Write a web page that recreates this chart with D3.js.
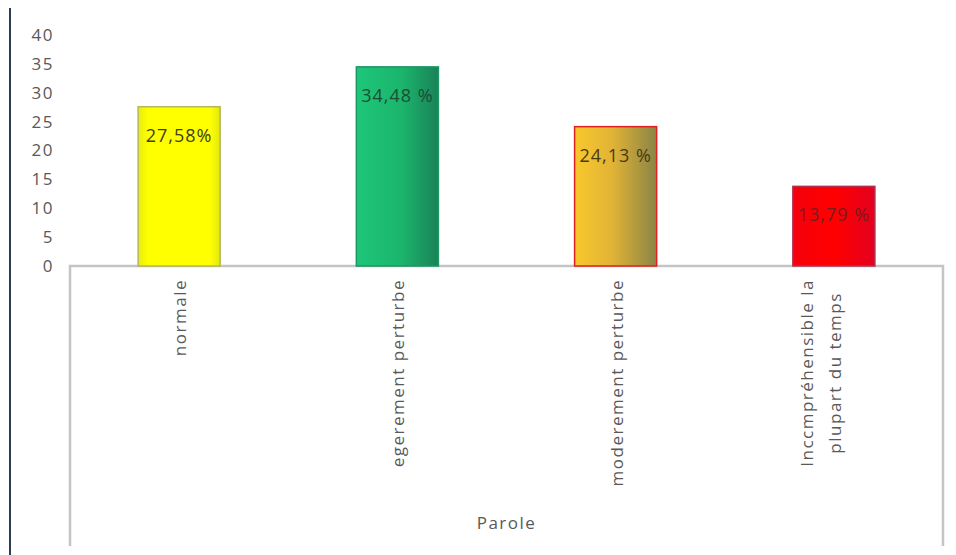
<!DOCTYPE html>
<html>
<head>
<meta charset="utf-8">
<script src="https://cdn.jsdelivr.net/npm/d3@7/dist/d3.min.js"></script>
<style>
  html, body { margin: 0; padding: 0; background: #fff; }
  svg { display: block; }
  text { font-family: "Open Sans", "Liberation Sans", sans-serif; letter-spacing: 1.5px; }
</style>
</head>
<body>
<svg id="chart" width="956" height="555"></svg>
<script>
// Parole : répartition des patients (%)
const categories = [
  ["normale"],
  ["egerement perturbe"],
  ["moderement perturbe"],
  ["Inccmpréhensible la", "plupart du temps"]
];
const values = [27.58, 34.48, 24.13, 13.79];
const valueLabels = ["27,58%", "34,48 %", "24,13 %", "13,79 %"];
const yTicks = [0, 5, 10, 15, 20, 25, 30, 35, 40];
const axisTitle = "Parole";

const svg = d3.select("#chart");
const W = 956, H = 555;
const plot = { left: 70, right: 943, top: 35, bottom: 266 };

const x = d3.scaleBand()
  .domain(d3.range(categories.length))
  .range([plot.left, plot.right])
  .paddingInner(0.624)
  .paddingOuter(0.312);

const y = d3.scaleLinear().domain([0, 40]).range([plot.bottom, plot.top]);

// bar fills
const defs = svg.append("defs");
const styles = [
  { id: "g0", stops: [["0%", "#e4ec10"], ["12%", "#ffff00"], ["88%", "#ffff00"], ["100%", "#e0e810"]], stroke: "#b4b858", label: "#3e3e1c" },
  { id: "g1", stops: [["0%", "#1ec67a"], ["55%", "#1bb56c"], ["100%", "#1a8258"]], stroke: "#1a9662", label: "#1c4e34" },
  { id: "g2", stops: [["0%", "#f8c82c"], ["45%", "#e2b436"], ["100%", "#8a8446"]], stroke: "#e02020", label: "#4a3a12" },
  { id: "g3", stops: [["0%", "#f4000c"], ["50%", "#ff0000"], ["100%", "#e4001e"]], stroke: "#b43050", label: "#7a1c1c" }
];
styles.forEach(g => {
  const lg = defs.append("linearGradient").attr("id", g.id)
    .attr("x1", "0%").attr("x2", "100%").attr("y1", "0%").attr("y2", "0%");
  g.stops.forEach(s => lg.append("stop").attr("offset", s[0]).attr("stop-color", s[1]));
});

// left frame edge
svg.append("line")
  .attr("x1", 10).attr("x2", 10).attr("y1", 8).attr("y2", H)
  .attr("stroke", "#2c3c52").attr("stroke-width", 2);

// y axis labels
const yAxis = d3.axisLeft(y).tickValues(yTicks).tickSize(0).tickPadding(0);
const gy = svg.append("g").attr("transform", "translate(54,0)").call(yAxis);
gy.select(".domain").remove();
gy.selectAll("text")
  .attr("fill", "#595959")
  .style("font-size", "17px")
  .style("font-family", "\"Open Sans\", \"Liberation Sans\", sans-serif");

// category box below the axis
svg.append("path")
  .attr("d", `M${plot.left},546 V${plot.bottom} H${plot.right} V546`)
  .attr("fill", "none")
  .attr("stroke", "#c4c4c4")
  .attr("stroke-width", 2.5);

// bars
svg.selectAll("rect.bar")
  .data(values)
  .join("rect")
  .attr("class", "bar")
  .attr("x", (d, i) => x(i))
  .attr("y", d => y(d))
  .attr("width", x.bandwidth())
  .attr("height", d => y(0) - y(d))
  .attr("fill", (d, i) => `url(#${styles[i].id})`)
  .attr("stroke", (d, i) => styles[i].stroke)
  .attr("stroke-width", 1.5);

// value labels
svg.selectAll("text.val")
  .data(values)
  .join("text")
  .attr("class", "val")
  .attr("x", (d, i) => x(i) + x.bandwidth() / 2)
  .attr("y", d => y(d) + 35)
  .attr("text-anchor", "middle")
  .attr("fill", (d, i) => styles[i].label)
  .style("font-size", "18px")
  .style("letter-spacing", "1px")
  .text((d, i) => valueLabels[i]);

// rotated category labels: block hangs from the axis, lines centred in the block
const lineGap = 28;
const labelTop = 279;
categories.forEach((lines, i) => {
  const cx = x(i) + x.bandwidth() / 2;
  const n = lines.length;
  const g = svg.append("g");
  const texts = lines.map((ln, j) => g.append("text")
    .attr("text-anchor", "middle")
    .attr("fill", "#595959")
    .style("font-size", "17px")
    .text(ln));
  const maxLen = d3.max(texts, t => t.node().getComputedTextLength());
  texts.forEach((t, j) => {
    const lx = cx + 7 - (n - 1 - j) * lineGap;
    t.attr("transform", `translate(${lx},${labelTop + maxLen / 2}) rotate(-90)`);
  });
});

// axis title
svg.append("text")
  .attr("x", (plot.left + plot.right) / 2)
  .attr("y", 529)
  .attr("text-anchor", "middle")
  .attr("fill", "#595959")
  .style("font-size", "17px")
  .text(axisTitle);
</script>
</body>
</html>
